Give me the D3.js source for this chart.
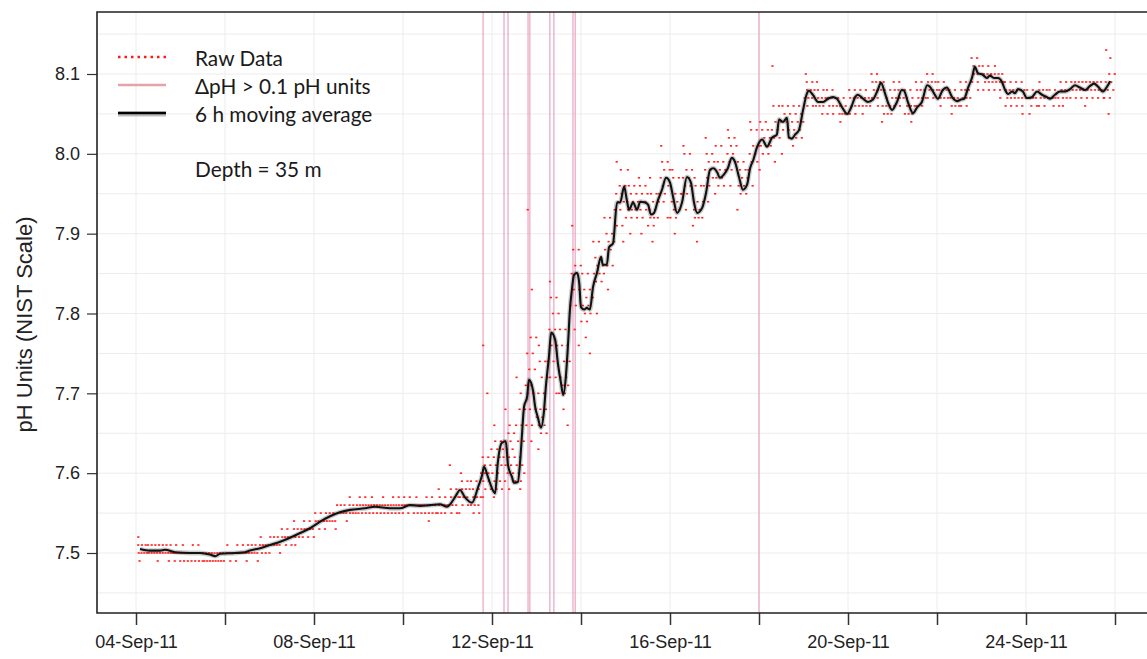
<!DOCTYPE html>
<html>
<head>
<meta charset="utf-8">
<script src="https://cdn.jsdelivr.net/npm/d3@7"></script>
<style>
  body { margin: 0; background: #fff; }
  svg { display: block; }
</style>
</head>
<body>
<svg id="chart" width="1147" height="659"></svg>
<script>
// 6 h moving average: day of September 2011 (fractional) and pH
const maDays = [4.09,4.31,4.54,4.65,4.88,5.21,5.44,5.66,5.78,5.89,
  6.22,6.45,6.56,6.79,7.01,7.24,7.46,7.69,7.91,8.13,
  8.36,8.58,8.81,9.15,9.37,9.71,9.93,10.16,10.38,10.61,
  10.83,10.99,11.17,11.28,11.39,11.55,11.69,11.78,11.82,11.91,
  12.00,12.07,12.13,12.22,12.31,12.36,12.45,12.49,12.58,12.63,
  12.67,12.72,12.79,12.83,12.92,12.97,13.03,13.10,13.17,13.21,
  13.28,13.33,13.42,13.48,13.55,13.60,13.66,13.71,13.75,13.80,
  13.84,13.91,13.96,14.00,14.07,14.13,14.20,14.27,14.36,14.45,
  14.49,14.58,14.63,14.72,14.81,14.88,14.97,15.03,15.08,15.17,
  15.26,15.33,15.44,15.51,15.57,15.64,15.73,15.82,15.91,16.00,
  16.07,16.16,16.27,16.38,16.47,16.54,16.61,16.72,16.81,16.90,
  16.97,17.06,17.12,17.21,17.30,17.39,17.46,17.55,17.64,17.73,
  17.80,17.87,17.96,18.07,18.18,18.29,18.40,18.45,18.54,18.63,
  18.67,18.74,18.81,18.90,18.99,19.08,19.12,19.21,19.33,19.44,
  19.55,19.66,19.75,19.87,19.98,20.07,20.16,20.22,20.34,20.45,
  20.56,20.67,20.74,20.83,20.90,20.99,21.10,21.21,21.26,21.35,
  21.46,21.55,21.66,21.78,21.84,21.93,22.02,22.13,22.22,22.34,
  22.45,22.54,22.61,22.70,22.79,22.85,22.92,23.03,23.12,23.19,
  23.28,23.37,23.46,23.53,23.60,23.69,23.75,23.82,23.93,24.02,
  24.13,24.25,24.36,24.47,24.54,24.65,24.76,24.88,24.99,25.10,
  25.21,25.33,25.44,25.53,25.62,25.73,25.82,25.89]
const maPH = [7.505,7.503,7.503,7.504,7.501,7.500,7.500,7.498,7.496,7.499,
  7.500,7.501,7.503,7.506,7.510,7.514,7.519,7.525,7.531,7.539,
  7.546,7.551,7.554,7.556,7.558,7.556,7.556,7.560,7.559,7.560,
  7.561,7.558,7.570,7.579,7.570,7.563,7.583,7.598,7.608,7.595,
  7.581,7.575,7.613,7.638,7.640,7.610,7.595,7.588,7.589,7.613,
  7.645,7.683,7.696,7.717,7.704,7.683,7.670,7.657,7.679,7.708,
  7.746,7.776,7.767,7.738,7.713,7.698,7.721,7.763,7.804,7.832,
  7.848,7.851,7.838,7.808,7.805,7.807,7.805,7.833,7.851,7.871,
  7.861,7.861,7.883,7.888,7.939,7.939,7.959,7.942,7.930,7.939,
  7.930,7.940,7.939,7.936,7.924,7.926,7.942,7.955,7.970,7.964,
  7.946,7.926,7.939,7.971,7.964,7.939,7.926,7.932,7.951,7.980,
  7.982,7.977,7.970,7.974,7.982,7.995,7.990,7.971,7.955,7.961,
  7.982,7.992,8.009,8.018,8.009,8.020,8.024,8.043,8.040,8.045,
  8.021,8.019,8.024,8.030,8.055,8.076,8.079,8.074,8.065,8.065,
  8.069,8.071,8.069,8.058,8.050,8.058,8.071,8.074,8.069,8.065,
  8.068,8.080,8.089,8.076,8.064,8.055,8.065,8.080,8.079,8.064,
  8.051,8.058,8.065,8.086,8.084,8.076,8.069,8.080,8.083,8.071,
  8.066,8.068,8.069,8.083,8.096,8.109,8.101,8.099,8.095,8.098,
  8.095,8.095,8.090,8.080,8.075,8.078,8.076,8.081,8.078,8.070,
  8.071,8.078,8.074,8.071,8.069,8.074,8.078,8.078,8.081,8.086,
  8.083,8.080,8.085,8.088,8.084,8.078,8.084,8.091]

// raw readings per 6 h bucket from 04-Sep 00:00: "level*count", level in 0.01 pH above 7.00
const rawStart = 4
const rawBucketDays = 0.25
const rawBuckets = [
  "52*1 51*3 50*4 49*1", "51*3 50*4 49*1", "51*3 50*4 49*1", "51*2 50*5 49*2",
  "51*1 50*4 49*3", "51*2 50*4 49*3", "50*4 49*4", "50*4 49*4",
  "51*1 50*5 49*2", "51*2 50*5 49*1", "51*3 50*4 49*1", "52*1 51*4 50*3",
  "52*3 51*4 50*1", "53*2 52*4 51*2", "54*1 53*3 52*3 51*1", "54*2 53*4 52*2",
  "55*2 54*4 53*2", "55*3 54*4 53*1", "56*3 55*4 54*1", "57*1 56*3 55*4",
  "57*2 56*4 55*3", "57*1 56*4 55*3", "57*1 56*4 55*3", "57*2 56*4 55*3",
  "57*2 56*5 55*2", "57*1 56*5 55*3", "57*2 56*4 55*3 54*1", "58*1 57*2 56*4 55*3",
  "61*1 58*2 57*3 56*3 55*2", "60*1 59*2 58*3 57*3 56*2 55*1", "59*2 58*2 57*3 56*3 55*2",
  "76*1 70*1 63*1 62*2 61*2 60*3 59*2 58*2 57*1",
  "66*1 64*2 63*2 62*2 61*2 60*2 59*2 58*2 57*1",
  "68*1 66*1 65*2 64*2 63*2 62*2 61*2 60*2 59*1 58*1",
  "72*1 70*1 68*2 66*2 64*2 62*2 61*2 60*2 59*2 58*1",
  "93*1 83*1 77*2 75*2 73*2 71*2 70*2 68*2 66*2 64*1",
  "76*1 74*2 72*2 70*2 68*2 67*2 66*2 65*2 63*1",
  "84*1 82*2 80*2 78*2 76*2 74*2 72*2 70*1",
  "78*2 76*2 74*2 72*2 71*2 70*2 68*1 66*1",
  "91*1 88*2 86*2 85*2 83*2 81*2 78*1 76*1",
  "85*2 83*2 82*2 81*2 80*2 79*2 77*1 75*1",
  "89*2 87*2 86*2 85*2 84*2 82*1 80*1",
  "92*2 90*2 89*2 88*2 86*2 85*1 83*1",
  "99*1 98*1 96*2 95*2 94*2 93*2 91*2 89*1",
  "98*1 96*2 95*2 94*2 93*3 92*2 90*1",
  "97*1 96*2 95*2 94*3 93*2 92*2 90*1",
  "97*1 95*2 94*2 93*2 92*3 91*2 89*1",
  "101*1 99*2 98*2 97*2 96*2 95*2 94*1 92*1",
  "98*1 97*2 95*2 94*2 93*2 92*2 90*1",
  "101*1 100*2 98*2 97*2 96*2 95*2 93*1",
  "97*1 96*2 94*2 93*2 92*3 91*1 89*1",
  "102*1 100*2 99*2 98*2 97*2 96*2 94*1",
  "101*2 99*2 98*2 97*2 96*2 95*1",
  "103*1 102*2 101*2 100*2 99*2 98*2 96*1",
  "99*2 98*2 97*2 96*2 95*2 93*1",
  "104*1 103*2 101*2 100*2 99*2 98*1 96*1",
  "104*2 103*2 102*2 101*2 100*2 98*1",
  "111*1 106*2 104*2 103*2 102*2 101*1 99*1",
  "106*2 105*2 104*2 103*2 102*1 100*1",
  "106*2 105*2 104*2 103*2 102*2 101*1",
  "110*1 109*2 108*3 107*3 106*2", "109*1 108*2 107*3 106*3 105*1",
  "108*2 107*3 106*3 105*2", "107*2 106*2 105*4 104*1",
  "108*2 107*3 106*3 105*2", "108*2 107*3 106*3 105*1",
  "110*2 109*3 108*3 107*2 106*1", "109*1 108*2 107*2 106*3 105*3 104*1",
  "109*2 108*3 107*3 106*2", "108*2 107*2 106*3 105*3 104*1",
  "109*2 108*3 107*3 106*2", "110*2 109*3 108*3 107*2",
  "109*2 108*3 107*3 106*1", "108*2 107*3 106*3 105*1",
  "109*2 108*3 107*3 106*2", "112*2 111*2 110*3 109*2 108*1",
  "111*2 110*3 109*3 108*2", "111*1 110*3 109*3 108*2 107*1",
  "109*2 108*3 107*3 106*2", "109*2 108*3 107*3 106*2 105*1",
  "108*2 107*4 106*2 105*1", "109*1 108*3 107*3 106*2",
  "108*2 107*4 106*2", "109*2 108*3 107*3 106*1",
  "109*3 108*3 107*2", "109*3 108*3 107*2 106*1",
  "109*3 108*3 107*2", "113*1 112*1 110*2 109*2 108*2 107*2 105*1"
]

// times where ΔpH > 0.1 (day of September)
const deltaDays = [11.80, 12.27, 12.36, 12.81, 12.85, 13.30, 13.39, 13.82, 13.87, 18.00]

const yTicks = [7.5, 7.6, 7.7, 7.8, 7.9, 8.0, 8.1]
const xTickDays = [4, 6, 8, 10, 12, 14, 16, 18, 20, 22, 24, 26]
const xLabelDays = [4, 8, 12, 16, 20, 24]
const legendLabels = ["Raw Data", "\u0394pH > 0.1 pH units", "6 h moving average"]
const noteLabel = "Depth = 35 m"
const yTitle = "pH Units (NIST Scale)"

const W = 1147, H = 659
const plot = { left: 97, top: 12, right: 1152, bottom: 613 }
const dayMs = 864e5
const toDate = d => new Date(Date.UTC(2011, 8, 1) + (d - 1) * dayMs)

const svg = d3.select("#chart")
const x = d3.scaleUtc().domain([toDate(4), toDate(26)]).range([136, 1115])
const y = d3.scaleLinear().domain([7.5, 8.1]).range([553, 74])

svg.append("defs").append("clipPath").attr("id", "clip")
  .append("rect")
  .attr("x", plot.left).attr("y", plot.top)
  .attr("width", plot.right - plot.left).attr("height", plot.bottom - plot.top)

// grid
const grid = svg.append("g").attr("stroke", "#ececec").attr("stroke-width", 1)
grid.selectAll("line.h")
  .data(d3.range(7.45, 8.16, 0.05))
  .join("line")
  .attr("x1", plot.left).attr("x2", plot.right)
  .attr("y1", d => y(d)).attr("y2", d => y(d))
grid.selectAll("line.v")
  .data(xTickDays)
  .join("line")
  .attr("x1", d => x(toDate(d))).attr("x2", d => x(toDate(d)))
  .attr("y1", plot.top).attr("y2", plot.bottom)

const body = svg.append("g").attr("clip-path", "url(#clip)")

// ΔpH flags
body.append("g")
  .selectAll("line")
  .data(deltaDays)
  .join("line")
  .attr("x1", d => x(toDate(d))).attr("x2", d => x(toDate(d)))
  .attr("y1", plot.top).attr("y2", plot.bottom)
  .attr("stroke", "#e898b8")
  .attr("stroke-width", 1.3)
  .attr("opacity", 0.8)

// raw data
const raw = []
rawBuckets.forEach((s, i) => {
  const t0 = rawStart + i * rawBucketDays
  s.split(" ").forEach((entry, j) => {
    const [lvl, cnt] = entry.split("*").map(Number)
    const phase = (j * 0.37 + 0.2) % 1
    for (let k = 0; k < cnt; k++) {
      raw.push({ day: t0 + rawBucketDays * (k + phase) / cnt, ph: 7 + lvl / 100 })
    }
  })
})
body.append("g")
  .selectAll("rect")
  .data(raw)
  .join("rect")
  .attr("x", d => x(toDate(d.day)) - 1)
  .attr("y", d => y(d.ph) - 0.8)
  .attr("width", 2.2)
  .attr("height", 1.6)
  .attr("fill", "#ff2020")

// moving average
const ma = d3.zip(maDays, maPH)
const line = d3.line()
  .x(d => x(toDate(d[0])))
  .y(d => y(d[1]))
  .curve(d3.curveMonotoneX)
body.append("path").datum(ma)
  .attr("d", line).attr("fill", "none")
  .attr("stroke", "#000").attr("stroke-opacity", 0.2).attr("stroke-width", 4.8)
  .attr("stroke-linejoin", "round")
body.append("path").datum(ma)
  .attr("d", line).attr("fill", "none")
  .attr("stroke", "#111").attr("stroke-width", 2.1)
  .attr("stroke-linejoin", "round")

// axes
const axisFont = "'Liberation Sans', Arial, sans-serif"
const xAxis = svg.append("g")
  .attr("transform", `translate(0,${plot.bottom})`)
  .call(d3.axisBottom(x)
    .tickValues(xTickDays.map(toDate))
    .tickSize(12)
    .tickPadding(10)
    .tickFormat(d => xLabelDays.includes(d.getUTCDate()) ? d3.utcFormat("%d-%b-%y")(d) : ""))
xAxis.select(".domain").remove()
xAxis.selectAll("line").attr("stroke", "#333").attr("stroke-width", 1.5)
xAxis.selectAll("text").attr("font-family", axisFont).attr("font-size", 18).attr("fill", "#222")

const yAxis = svg.append("g")
  .attr("transform", `translate(${plot.left},0)`)
  .call(d3.axisLeft(y).tickValues(yTicks).tickSize(10).tickPadding(7).tickFormat(d3.format(".1f")))
yAxis.select(".domain").remove()
yAxis.selectAll("line").attr("stroke", "#333").attr("stroke-width", 1.2)
yAxis.selectAll("text").attr("font-family", axisFont).attr("font-size", 18).attr("fill", "#222")

const frame = svg.append("g").attr("stroke", "#222").attr("stroke-width", 1.6).attr("fill", "none")
frame.append("path")
  .attr("d", `M${plot.right},${plot.top}H${plot.left}V${plot.bottom}H${plot.right}`)

svg.append("text")
  .attr("transform", `translate(24,${(plot.top + plot.bottom) / 2 + 12}) rotate(-90)`)
  .attr("text-anchor", "middle")
  .attr("dominant-baseline", "central")
  .attr("font-family", axisFont)
  .attr("font-size", 22)
  .attr("fill", "#222")
  .text(yTitle)

// legend
const legend = svg.append("g")
const legendY = [57, 85, 113]
legend.append("line")
  .attr("x1", 118).attr("x2", 166).attr("y1", legendY[0]).attr("y2", legendY[0])
  .attr("stroke", "#ff1a1a").attr("stroke-width", 2.5).attr("stroke-dasharray", "2.5,4")
legend.append("line")
  .attr("x1", 118).attr("x2", 166).attr("y1", legendY[1]).attr("y2", legendY[1])
  .attr("stroke", "#e6a2a8").attr("stroke-width", 2.5)
legend.append("line")
  .attr("x1", 118).attr("x2", 166).attr("y1", legendY[2] + 1).attr("y2", legendY[2] + 1)
  .attr("stroke", "#000").attr("stroke-opacity", 0.25).attr("stroke-width", 5)
legend.append("line")
  .attr("x1", 118).attr("x2", 166).attr("y1", legendY[2]).attr("y2", legendY[2])
  .attr("stroke", "#000").attr("stroke-width", 2.5)
const legendFont = "Lato, 'Open Sans', sans-serif"
legend.selectAll("text")
  .data(legendLabels.concat([noteLabel]))
  .join("text")
  .attr("x", 195)
  .attr("y", (d, i) => i < 3 ? legendY[i] : 168)
  .attr("dominant-baseline", "central")
  .attr("font-family", legendFont)
  .attr("font-size", 20.8)
  .attr("fill", "#1a1a1a")
  .text(d => d)
</script>
</body>
</html>
